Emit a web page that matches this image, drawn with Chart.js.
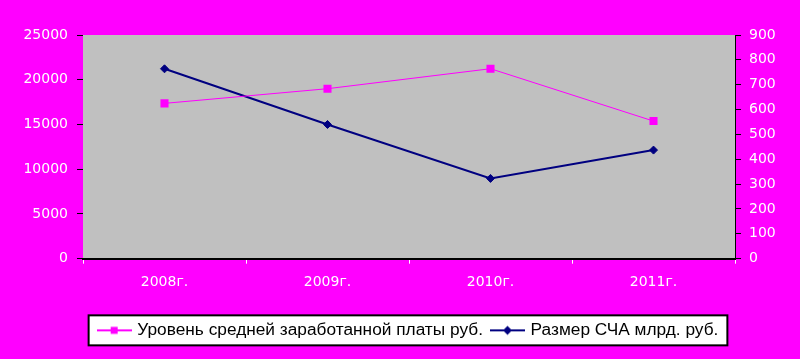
<!DOCTYPE html>
<html>
<head>
<meta charset="utf-8">
<script src="https://cdn.jsdelivr.net/npm/chart.js@4"></script>
<style>
  html, body { margin: 0; padding: 0; background: #FF00FF; }
  canvas { display: block; }
</style>
</head>
<body>
<canvas id="c" width="800" height="359"></canvas>
<script>
// ---- data ----
const categories = ['2008г.', '2009г.', '2010г.', '2011г.'];
const salary = [17360, 19000, 21230, 15380];   // Уровень средней заработанной платы руб.
const navSize = [764, 540, 323, 437];          // Размер СЧА млрд. руб.
const seriesNames = ['Уровень средней заработанной платы руб.', 'Размер СЧА млрд. руб.'];
const leftTicks = [0, 5000, 10000, 15000, 20000, 25000];
const rightTicks = [0, 100, 200, 300, 400, 500, 600, 700, 800, 900];

const PINK = '#FF00FF';
const NAVY = '#000080';

// legend icons (line + marker)
function makeIcon(color, lineW, marker) {
  const c = document.createElement('canvas');
  c.width = 35; c.height = 12;
  const g = c.getContext('2d');
  g.fillStyle = color;
  g.fillRect(0, 6 - lineW / 2, 35, lineW);
  if (marker === 'square') {
    g.fillRect(14, 2.5, 7, 7);
  } else {
    g.beginPath();
    g.moveTo(17.5, 1.5); g.lineTo(22, 6); g.lineTo(17.5, 10.5); g.lineTo(13, 6); g.closePath();
    g.fill();
  }
  return c;
}
const icons = [makeIcon(PINK, 2, 'square'), makeIcon(NAVY, 2, 'diamond')];

const bgPlugin = {
  id: 'bg',
  beforeDraw(chart) {
    const ctx = chart.ctx;
    const a = chart.chartArea;
    ctx.save();
    ctx.fillStyle = PINK;
    ctx.fillRect(0, 0, chart.width, chart.height);
    ctx.fillStyle = '#C0C0C0';
    ctx.fillRect(a.left, a.top, a.right - a.left, a.bottom - a.top);
    const lg = chart.legend;
    if (lg && lg.legendHitBoxes && lg.legendHitBoxes.length) {
      const hb = lg.legendHitBoxes;
      const first = hb[0], last = hb[hb.length - 1];
      const cy = first.top + first.height / 2;
      const x1 = first.left - 11, x2 = last.left + last.width + 9;
      const y1 = cy - 15, y2 = cy + 15;
      ctx.fillStyle = '#FFFFFF';
      ctx.fillRect(x1, y1, x2 - x1, y2 - y1);
      ctx.strokeStyle = '#000000';
      ctx.lineWidth = 2;
      ctx.strokeRect(x1, y1, x2 - x1, y2 - y1);
    }
    ctx.restore();
  }
};

const tickFont = { family: 'DejaVu Sans', size: 14 };
const plainNum = (v) => String(v);

new Chart(document.getElementById('c'), {
  type: 'line',
  data: {
    labels: categories,
    datasets: [
      {
        label: seriesNames[0],
        data: salary,
        yAxisID: 'y',
        borderColor: PINK,
        backgroundColor: PINK,
        borderWidth: 1,
        pointStyle: 'rect',
        pointRadius: 5.7,
        pointBorderWidth: 0,
        pointBackgroundColor: PINK,
        tension: 0
      },
      {
        label: seriesNames[1],
        data: navSize,
        yAxisID: 'y1',
        borderColor: NAVY,
        backgroundColor: NAVY,
        borderWidth: 2,
        pointStyle: 'rectRot',
        pointRadius: 4,
        pointBorderWidth: 1,
        pointBorderColor: NAVY,
        pointBackgroundColor: NAVY,
        tension: 0
      }
    ]
  },
  options: {
    responsive: false,
    animation: false,
    devicePixelRatio: 1,
    layout: { padding: { left: 18, right: 0, top: 35, bottom: 10 } },
    plugins: {
      tooltip: { enabled: false },
      legend: {
        position: 'bottom',
        labels: {
          usePointStyle: true,
          pointStyleWidth: 29,
          padding: 10,
          color: '#000000',
          font: { family: 'Liberation Sans', size: 17.3 },
          generateLabels(chart) {
            const items = Chart.defaults.plugins.legend.labels.generateLabels(chart);
            items.forEach((it, i) => { it.pointStyle = icons[i]; it.fontColor = '#000000'; });
            return items;
          }
        }
      }
    },
    scales: {
      x: {
        type: 'category',
        offset: true,
        grid: { display: true, drawOnChartArea: false, drawTicks: true, tickLength: 5, tickColor: '#FFFFFF', offset: true },
        border: { display: true, color: '#000000', width: 2 },
        ticks: { color: '#FFFFFF', font: tickFont, padding: 10, maxRotation: 0 },
        afterFit(s) { s.height = 53; }
      },
      y: {
        position: 'left',
        min: 0, max: 25000,
        afterBuildTicks(s) { s.ticks = leftTicks.map(v => ({ value: v })); },
        grid: { display: true, drawOnChartArea: false, drawTicks: true, tickLength: 6, tickColor: '#000000' },
        border: { display: false },
        ticks: { color: '#FFFFFF', font: tickFont, padding: 9, callback: plainNum },
        afterFit(s) { s.width = 65; }
      },
      y1: {
        position: 'right',
        min: 0, max: 900,
        afterBuildTicks(s) { s.ticks = rightTicks.map(v => ({ value: v })); },
        grid: { display: true, drawOnChartArea: false, drawTicks: true, tickLength: 6, tickColor: '#000000' },
        border: { display: true, color: '#000000', width: 1 },
        ticks: { color: '#FFFFFF', font: tickFont, padding: 8, callback: plainNum },
        afterFit(s) { s.width = 65; }
      }
    }
  },
  plugins: [bgPlugin]
});
</script>
</body>
</html>
